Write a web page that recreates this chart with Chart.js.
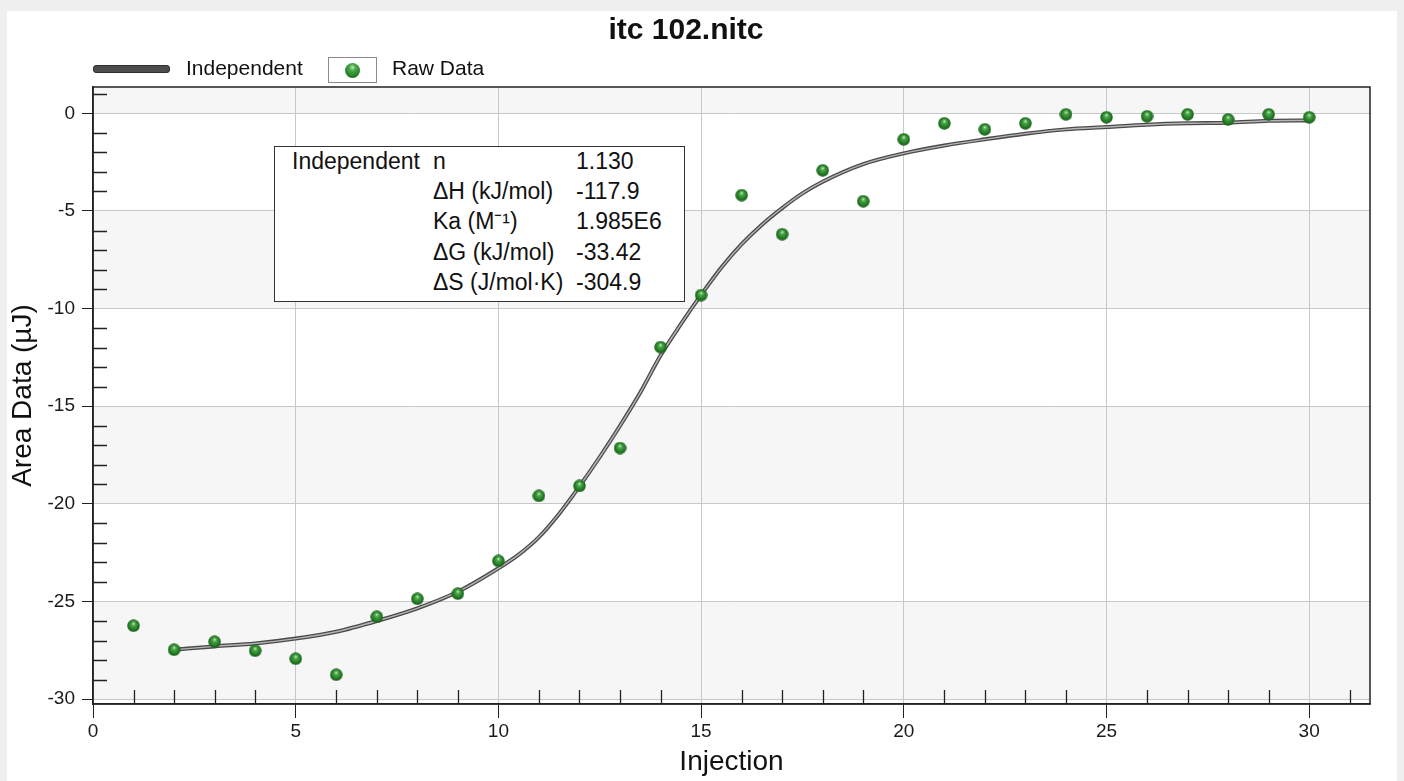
<!DOCTYPE html>
<html>
<head>
<meta charset="utf-8">
<script src="https://cdn.jsdelivr.net/npm/chart.js@4/dist/chart.umd.min.js"></script>
<style>
  body { margin: 0; width: 1404px; height: 781px; background: #efefef; overflow: hidden;
         font-family: "Liberation Sans", Arial, sans-serif; color: #111; }
  #panel { position: absolute; left: 7px; top: 11px; width: 1390px; height: 770px; background: #fff; }
  #myChart { position: absolute; left: 0; top: 0; }
  .lbl { position: absolute; white-space: nowrap; }
  .leg { font-size: 21px; line-height: 24px; }
  .fit { font-size: 23px; line-height: 30px; }
  #legBar { position: absolute; left: 93px; top: 65px; width: 77px; height: 8px; background: #4d4d4d;
            border: 1px solid #2e2e2e; border-radius: 3px; box-sizing: border-box; }
  #legBox { position: absolute; left: 328px; top: 57px; width: 49px; height: 26px; border: 1.5px solid #8a8a8a;
            box-sizing: border-box; background: #fff; }
  #legBall { position: absolute; left: 345px; top: 63px; width: 15px; height: 15px; border-radius: 50%;
             background: radial-gradient(circle at 50% 30%, #bfe6b5 0%, #4aa84a 25%, #237a23 70%, #145214 100%); }
  #fitBox { position: absolute; left: 274px; top: 146px; width: 411px; height: 156px; border: 1.5px solid #333;
            box-sizing: border-box; background: #fff; }
</style>
</head>
<body>
<div id="panel"></div>
<canvas id="myChart" width="1404" height="781"></canvas>

<div id="legBar"></div>
<span class="lbl leg" style="left:186px; top:56px;">Independent</span>
<div id="legBox"></div>
<div id="legBall"></div>
<span class="lbl leg" style="left:392px; top:56px;">Raw Data</span>

<div id="fitBox"></div>
<span class="lbl fit" style="left:292px; top:146px;">Independent</span>
<span class="lbl fit" style="left:433px; top:146px;">n</span>
<span class="lbl fit" style="left:576px; top:146px;">1.130</span>
<span class="lbl fit" style="left:433px; top:176px;">ΔH (kJ/mol)</span>
<span class="lbl fit" style="left:576px; top:176px;">-117.9</span>
<span class="lbl fit" style="left:433px; top:206px;">Ka (M⁻¹)</span>
<span class="lbl fit" style="left:576px; top:206px;">1.985E6</span>
<span class="lbl fit" style="left:433px; top:237px;">ΔG (kJ/mol)</span>
<span class="lbl fit" style="left:576px; top:237px;">-33.42</span>
<span class="lbl fit" style="left:433px; top:267px;">ΔS (J/mol·K)</span>
<span class="lbl fit" style="left:576px; top:267px;">-304.9</span>

<script>
// raw injection heats
const injections = [1, 2, 3, 4, 5, 6, 7, 8, 9, 10, 11, 12, 13, 14, 15,
                    16, 17, 18, 19, 20, 21, 22, 23, 24, 25, 26, 27, 28, 29, 30];
const rawArea = [-26.24, -27.47, -27.06, -27.52, -27.93, -28.75, -25.78, -24.86, -24.6, -22.92,
                 -19.59, -19.08, -17.14, -11.97, -9.31, -4.19, -6.19, -2.92, -4.5, -1.33,
                 -0.51, -0.82, -0.51, -0.05, -0.2, -0.15, -0.05, -0.31, -0.05, -0.2];

// fitted "Independent" model curve
const fitX = [2, 3, 4, 5, 6, 7, 8, 9, 10, 10.5, 11, 11.5, 12, 12.5, 13, 13.5, 14, 14.5, 15,
              15.5, 16, 16.5, 17, 17.5, 18, 19, 20, 21, 22, 23, 24, 25, 26, 27, 28, 29, 30];
const fitY = [-27.47, -27.3, -27.15, -26.9, -26.55, -26.0, -25.35, -24.5, -23.3, -22.6, -21.7, -20.5,
              -19.1, -17.6, -16.0, -14.3, -12.4, -10.8, -9.3, -7.9, -6.7, -5.7, -4.85, -4.1, -3.5,
              -2.6, -2.05, -1.65, -1.33, -1.04, -0.82, -0.7, -0.58, -0.51, -0.48, -0.38, -0.36];

const xTicks = [0, 5, 10, 15, 20, 25, 30];
const yTicks = [0, -5, -10, -15, -20, -25, -30];

// green ball marker
const ball = document.createElement('canvas');
ball.width = 13; ball.height = 13;
const bctx = ball.getContext('2d');
const grad = bctx.createRadialGradient(6.5, 4.2, 0.3, 6.5, 6.5, 6.5);
grad.addColorStop(0, '#c4e8ba');
grad.addColorStop(0.25, '#4aa84a');
grad.addColorStop(0.7, '#247a24');
grad.addColorStop(1, '#155515');
bctx.fillStyle = grad;
bctx.beginPath();
bctx.arc(6.5, 6.5, 6.2, 0, Math.PI * 2);
bctx.fill();

const bandsPlugin = {
  id: 'bands',
  beforeDraw(chart) {
    const { ctx, chartArea: a, scales: { y } } = chart;
    const edges = [a.top].concat(yTicks.map(v => y.getPixelForValue(v)), [a.bottom]);
    ctx.save();
    ctx.fillStyle = '#f6f6f6';
    for (let i = 0; i < edges.length - 1; i += 2) {
      ctx.fillRect(a.left, edges[i], a.right - a.left, edges[i + 1] - edges[i]);
    }
    ctx.restore();
  }
};

const framePlugin = {
  id: 'frame',
  afterDraw(chart) {
    const { ctx, chartArea: a, scales: { x, y } } = chart;
    ctx.save();
    ctx.strokeStyle = '#222';
    ctx.lineWidth = 1.3;
    ctx.beginPath();
    for (let v = Math.ceil(y.min); v <= y.max; v++) {
      if (v % 5 === 0) continue;
      const py = Math.round(y.getPixelForValue(v)) + 0.5;
      ctx.moveTo(a.left, py); ctx.lineTo(a.left + 14, py);
    }
    for (let v = 1; v <= x.max; v++) {
      if (v % 5 === 0) continue;
      const px = Math.round(x.getPixelForValue(v)) + 0.5;
      ctx.moveTo(px, a.bottom); ctx.lineTo(px, a.bottom - 14);
    }
    ctx.stroke();
    ctx.lineWidth = 1.5;
    ctx.strokeRect(a.left, a.top, a.right - a.left, a.bottom - a.top);
    ctx.restore();
  }
};

const fitPoints = fitX.map((x, i) => ({ x: x, y: fitY[i] }));

new Chart(document.getElementById('myChart'), {
  type: 'scatter',
  data: {
    datasets: [
      {
        label: 'Raw Data',
        data: injections.map((x, i) => ({ x: x, y: rawArea[i] })),
        pointStyle: ball,
        pointRadius: 6,
        order: 0
      },
      {
        label: 'Independent',
        data: fitPoints,
        showLine: true,
        borderColor: '#b5b5b5',
        borderWidth: 1.4,
        pointRadius: 0,
        cubicInterpolationMode: 'monotone',
        order: 1
      },
      {
        label: 'Independent outline',
        data: fitPoints,
        showLine: true,
        borderColor: '#4a4a4a',
        borderWidth: 4,
        pointRadius: 0,
        cubicInterpolationMode: 'monotone',
        order: 2
      }
    ]
  },
  options: {
    responsive: false,
    animation: false,
    layout: { padding: { left: 2, right: 34, top: 8, bottom: 0 } },
    plugins: {
      legend: { display: false },
      tooltip: { enabled: false },
      title: {
        display: true,
        text: 'itc 102.nitc',
        color: '#111',
        font: { family: '"Liberation Sans", Arial, sans-serif', size: 30, weight: 'bold' },
        padding: { top: 5, bottom: 38 }
      }
    },
    scales: {
      x: {
        type: 'linear',
        min: 0,
        max: 31.5,
        afterBuildTicks: scale => { scale.ticks = xTicks.map(v => ({ value: v })); },
        afterFit: scale => { scale.height = 77; },
        grid: { color: '#c8c8c8', tickColor: '#222', tickLength: 14, lineWidth: 1 },
        border: { color: '#222', width: 1.5 },
        ticks: {
          color: '#1a1a1a', padding: 2,
          font: { family: '"Liberation Sans", Arial, sans-serif', size: 19 }
        },
        title: {
          display: true, text: 'Injection', color: '#111',
          font: { family: '"Liberation Sans", Arial, sans-serif', size: 28 },
          padding: { top: 0, bottom: 2 }
        }
      },
      y: {
        type: 'linear',
        min: -30.25,
        max: 1.35,
        afterBuildTicks: scale => { scale.ticks = yTicks.map(v => ({ value: v })); },
        afterFit: scale => { scale.width = 91; },
        grid: { color: '#c8c8c8', tickColor: '#222', tickLength: 11, lineWidth: 1 },
        border: { color: '#222', width: 1.5 },
        ticks: {
          color: '#1a1a1a', padding: 7,
          font: { family: '"Liberation Sans", Arial, sans-serif', size: 19 }
        },
        title: {
          display: true, text: 'Area Data (µJ)', color: '#111',
          font: { family: '"Liberation Sans", Arial, sans-serif', size: 28 },
          padding: { top: 4, bottom: 0 }
        }
      }
    }
  },
  plugins: [bandsPlugin, framePlugin]
});
</script>
</body>
</html>
